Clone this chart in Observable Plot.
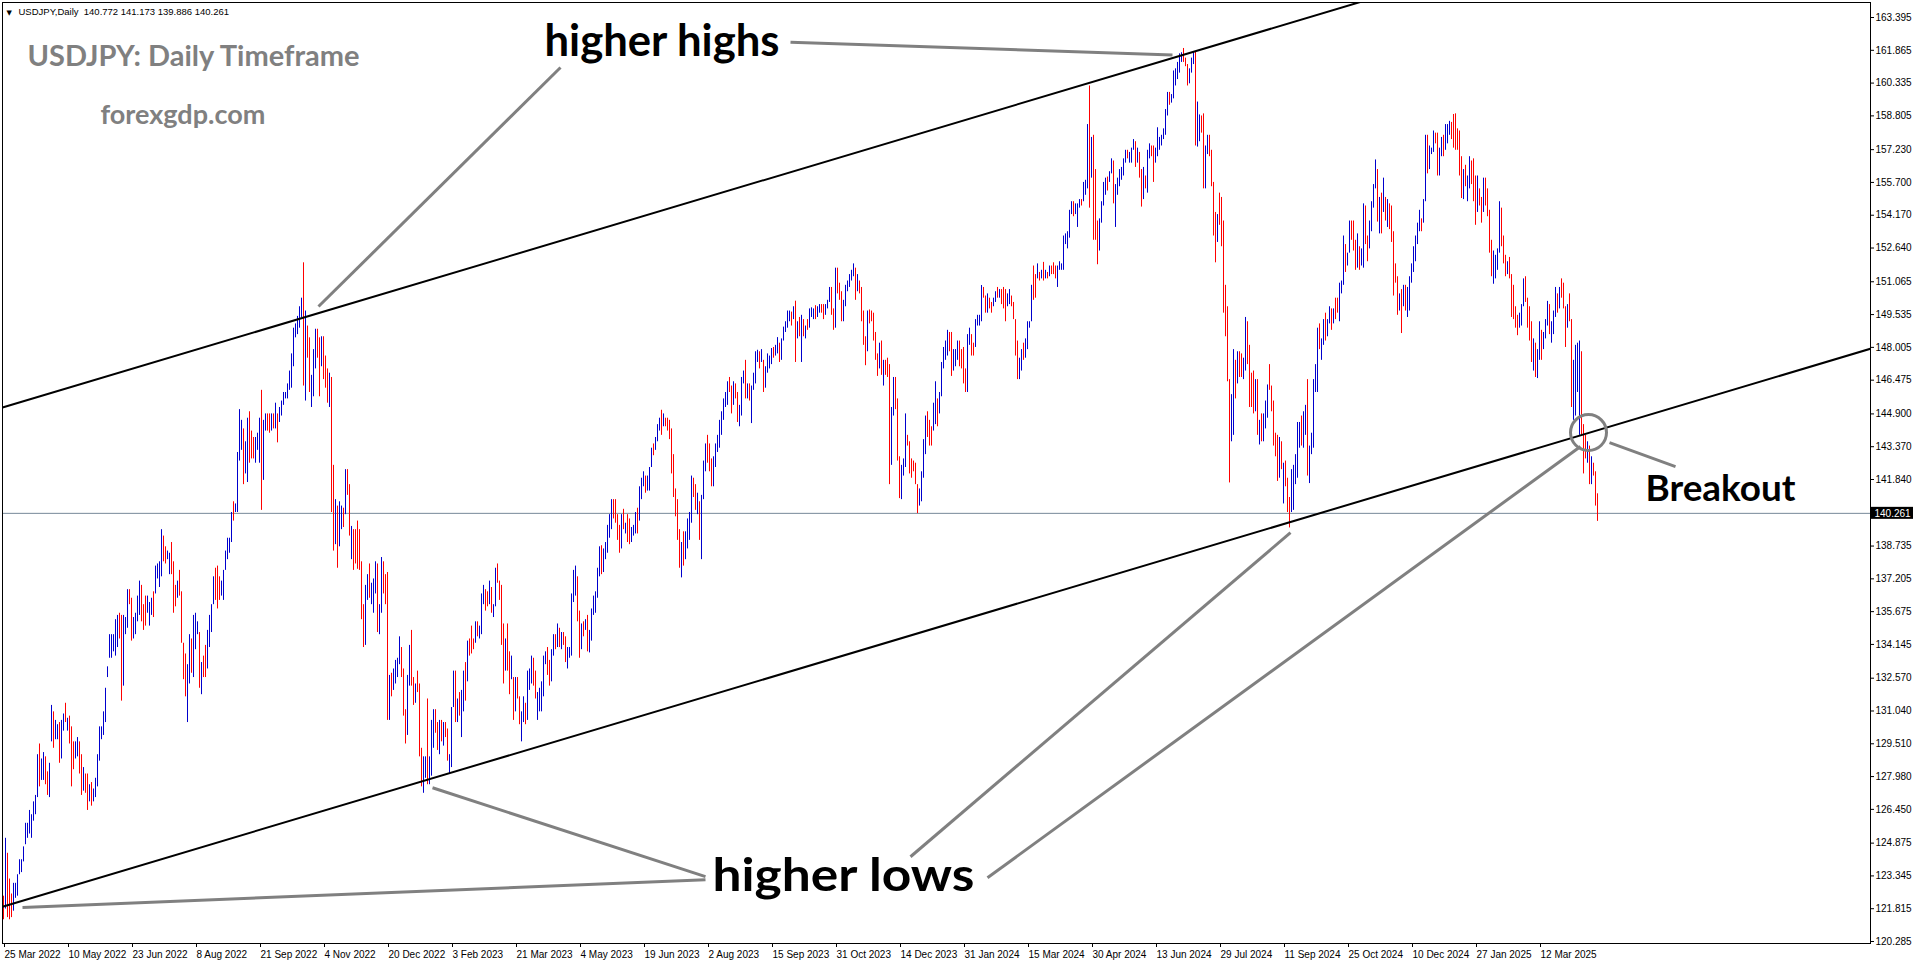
<!DOCTYPE html>
<html><head><meta charset="utf-8">
<script src="https://cdn.jsdelivr.net/npm/d3@7"></script>
<script src="https://cdn.jsdelivr.net/npm/@observablehq/plot@0.6"></script>
<style>
html,body{margin:0;padding:0;background:#fff;overflow:hidden;}
#chart svg{display:block;}
</style></head><body><div id="chart"></div>
<script>
// ---------- texts ----------
const symbolHeader = "USDJPY,Daily  140.772 141.173 139.886 140.261";
const chartTitle = "USDJPY: Daily Timeframe";
const siteName = "forexgdp.com";
const currentPrice = 140.261;

// ---------- axis tick labels ----------
const dateLabels = ["25 Mar 2022","10 May 2022","23 Jun 2022","8 Aug 2022","21 Sep 2022","4 Nov 2022","20 Dec 2022","3 Feb 2023","21 Mar 2023","4 May 2023","19 Jun 2023","2 Aug 2023","15 Sep 2023","31 Oct 2023","14 Dec 2023","31 Jan 2024","15 Mar 2024","30 Apr 2024","13 Jun 2024","29 Jul 2024","11 Sep 2024","25 Oct 2024","10 Dec 2024","27 Jan 2025","12 Mar 2025"];
const barsPerDateLabel = 32;
const priceTicks = [163.395,161.865,160.335,158.805,157.230,155.700,154.170,152.640,151.065,149.535,148.005,146.475,144.900,143.370,141.840,138.735,137.205,135.675,134.145,132.570,131.040,129.510,127.980,126.450,124.875,123.345,121.815,120.285];

// ---------- daily bars (one per trading day, 25 Mar 2022 -> 22 Apr 2025) ----------
const highs = [
122.4,125.1,124.4,123.2,122.5,123.0,123.0,123.4,124.1,124.1, // 0
124.7,125.8,125.8,126.4,126.2,126.8,127.1,129.0,129.5,128.8,
129.1,128.9,128.2,128.6,131.3,131.0,130.6,130.4,130.5,130.6,
130.9,131.4,130.7,130.8,130.3,129.6,129.6,129.8,129.6,129.0,
128.4,128.1,128.1,127.6,127.7,127.4,127.9,129.0,130.3,130.3,
131.0,132.1,133.1,134.6,134.6,134.6,135.3,135.5,135.6,135.5, // 50
135.5,135.4,136.7,136.7,136.3,135.4,135.6,136.4,137.1,136.9,
136.0,136.4,136.4,136.1,136.3,136.6,137.8,137.9,138.0,139.5,
139.2,138.7,138.5,138.4,138.9,138.0,136.9,137.1,137.6,136.6,
134.2,133.7,133.2,134.6,134.4,135.5,135.6,135.2,134.7,133.3,
133.6,134.1,134.8,135.5,136.0,137.3,137.7,137.8,137.3,137.1, // 100
137.6,138.5,139.1,139.1,140.3,140.8,140.7,143.1,145.1,144.6,
144.2,143.6,144.7,145.0,144.1,143.8,143.8,144.0,144.7,146.0,
144.6,144.9,144.9,144.9,144.9,144.9,145.4,144.9,145.2,145.5,
145.9,145.9,146.3,146.9,147.7,148.9,149.1,149.45,149.9,150.3,
151.95,149.7,149.0,148.45,146.7,147.9,148.85,148.85,148.45,148.5, // 150
148.5,147.6,147.0,146.8,146.6,142.5,140.9,140.6,140.8,140.6,
140.5,142.3,142.3,141.6,139.65,139.5,139.5,139.9,139.5,138.0,
136.0,136.9,137.4,137.9,137.0,137.2,138.0,137.9,136.0,138.2,
138.0,137.4,137.5,132.7,132.8,133.0,133.4,133.5,134.5,134.0,
133.0,131.1,132.7,134.1,134.8,132.6,132.3,132.9,132.3,129.3, // 200
128.9,128.9,131.6,128.9,130.6,131.1,131.1,130.5,130.6,130.6,
130.5,130.5,130.2,129.0,131.2,132.9,132.9,131.6,131.9,132.0,
132.9,133.3,134.3,134.4,135.0,134.4,135.2,135.2,135.0,136.5,
136.9,136.7,136.6,137.1,136.8,136.0,137.7,137.9,137.1,136.9,
135.1,134.4,135.1,133.8,133.6,132.6,132.6,132.6,131.7,131.0, // 250
131.7,131.4,132.9,133.0,133.6,133.5,132.9,131.9,132.1,132.4,
133.6,133.8,134.0,133.4,133.9,134.6,134.6,135.1,134.9,134.7,
134.7,134.5,134.0,134.0,136.5,137.6,137.8,137.3,135.7,135.1,
135.2,135.3,135.5,134.8,135.8,136.4,136.6,137.7,138.7,138.75,
138.6,138.9,139.7,140.2,140.9,140.9,140.9,140.2,139.7,140.2, // 300
140.45,139.8,140.2,140.0,139.6,139.7,140.3,140.5,141.5,141.9,
142.2,142.0,142.0,142.4,143.3,143.5,143.8,144.4,144.7,145.07,
144.9,144.7,144.7,144.6,144.2,143.0,141.4,140.9,139.5,138.9,
139.4,139.4,140.0,140.3,142.0,141.9,141.6,141.2,140.8,141.1,
142.7,143.5,143.9,143.5,142.8,142.9,143.5,143.9,144.6,145.0, // 350
145.6,145.9,146.4,146.6,146.2,146.4,146.3,145.9,145.3,146.6,
146.9,147.4,146.3,146.3,146.2,146.8,147.8,147.87,147.8,147.9,
147.4,147.1,147.7,147.6,147.95,148.0,148.1,148.46,148.2,148.4,
148.95,149.2,149.7,149.7,149.65,149.9,150.16,149.2,149.4,149.5,
149.3,149.0,149.3,149.8,149.85,149.8,149.95,149.9,150.0,150.0, // 400
150.0,150.0,150.2,150.8,150.8,149.8,151.7,151.7,151.0,150.6,
150.2,150.9,151.1,151.4,151.6,151.9,151.7,151.4,151.1,150.8,
149.7,148.5,149.7,149.75,149.7,149.6,148.7,147.7,148.2,148.3,
147.4,147.4,147.5,147.2,145.2,146.6,146.6,145.6,142.9,142.5,
142.8,144.9,143.9,143.6,142.8,142.7,142.6,141.6,141.4,142.2, // 450
143.7,144.8,145.0,144.6,144.3,145.4,146.4,145.6,145.9,147.3,
148.0,148.3,148.8,148.7,148.7,147.9,147.9,148.3,148.3,147.9,
148.0,147.0,148.6,148.9,148.6,148.2,149.3,149.5,149.5,150.89,
150.8,150.4,150.5,150.3,150.1,150.3,150.6,150.8,150.7,150.7,
150.8,150.7,150.5,150.7,150.4,150.1,149.3,148.3,147.5,147.9, // 500
148.2,148.4,149.2,149.2,150.9,151.8,151.4,151.9,151.5,151.6,
151.97,151.6,151.5,151.8,151.8,151.95,151.8,151.8,152.0,151.9,
153.2,153.3,153.4,154.4,154.8,154.8,154.7,154.7,154.9,154.9,
155.7,155.8,158.4,160.2,157.8,157.9,156.3,153.9,154.0,154.8,
155.7,155.9,155.95,156.2,156.8,156.7,155.6,155.9,156.3,156.4, // 550
156.8,157.2,157.2,157.1,157.3,157.7,157.6,157.3,157.1,156.3,
156.4,156.0,157.2,157.5,157.4,157.4,157.3,158.25,157.8,157.9,
158.2,159.1,159.9,159.9,159.8,160.9,161.0,161.3,161.7,161.75,
161.95,161.5,161.2,161.0,161.5,161.8,161.8,159.45,158.85,158.8,
158.9,157.4,157.9,157.9,157.2,155.7,154.3,154.2,155.2,155.0, // 600
153.9,150.9,149.9,146.5,145.8,147.9,147.4,147.8,147.8,147.7,
147.5,149.4,149.2,148.1,146.8,146.9,146.5,146.5,144.6,144.9,
144.9,145.5,146.25,147.2,146.2,145.5,144.0,143.9,143.8,143.6,
142.6,142.7,141.9,141.0,142.3,142.5,143.0,144.5,144.5,144.8,
145.0,145.3,146.5,143.4,144.0,146.5,147.2,148.9,149.1,148.4, // 650
149.3,149.6,149.3,149.9,149.8,149.8,150.3,150.3,151.0,151.1,
153.2,152.8,152.4,153.9,153.9,153.9,153.0,153.3,152.7,152.6,
154.7,154.6,153.2,153.9,154.8,155.6,156.75,156.3,155.0,155.2,
155.9,155.0,154.9,154.7,154.6,153.4,151.9,151.3,150.5,150.7,
150.9,150.9,150.8,151.3,151.9,152.7,153.2,153.8,154.4,154.0, // 700
154.9,157.9,157.9,157.4,157.3,158.1,158.0,158.0,157.3,157.8,
157.9,158.4,158.4,158.55,158.5,158.87,158.9,158.2,158.1,156.9,
156.3,156.5,156.0,156.9,156.7,156.8,156.0,156.0,155.4,155.0,
155.9,155.9,155.4,154.4,153.0,152.5,152.3,152.6,154.8,154.5,
153.2,152.3,152.0,152.2,151.4,150.9,149.9,149.5,149.6,150.0, // 750
151.2,151.3,150.3,149.9,149.2,148.4,148.2,147.9,149.2,148.8,
148.7,149.3,150.15,150.0,149.2,149.7,150.8,150.5,150.8,151.2,
151.0,149.9,150.0,150.5,149.3,147.4,148.1,148.2,148.3,147.8,
144.4,143.9,143.6,143.4,142.9,142.6,142.2,141.173 // 790
];
const lows = [
121.3,121.8,121.4,121.3,121.4,121.7,122.3,122.4,123.4,123.5, // 0
124.0,124.8,125.1,125.3,125.1,125.9,126.2,127.0,127.5,127.8,
127.8,127.6,127.1,127.0,129.6,129.3,129.7,129.7,128.6,128.8,
130.1,130.5,130.1,129.5,127.5,128.3,128.8,128.9,128.1,127.1,
127.3,127.2,126.4,126.8,126.6,126.8,127.0,127.5,128.7,129.7,
129.9,130.5,132.6,133.5,133.5,133.8,133.6,134.0,134.4,131.5, // 50
132.2,134.6,134.9,136.0,134.3,134.4,134.6,135.2,135.5,135.2,
134.8,135.0,135.6,135.0,135.5,135.4,136.5,137.2,136.8,137.3,
138.0,137.9,138.1,137.4,137.4,135.6,135.9,136.3,136.4,134.2,
132.5,131.7,130.5,132.3,132.8,132.6,133.9,134.6,132.1,131.8,
132.6,132.6,133.0,134.0,134.7,136.0,136.2,135.8,136.2,136.4, // 100
136.2,137.6,138.1,138.4,138.9,139.9,140.3,140.3,142.7,143.2,
141.6,142.1,141.7,142.6,142.8,142.8,142.6,143.2,142.6,140.4,
141.8,144.1,144.1,144.0,144.1,144.2,144.2,143.55,144.5,144.8,
145.3,145.6,145.6,146.0,146.1,147.1,148.45,148.6,148.9,149.4,
146.2,145.5,147.5,145.9,145.2,145.7,147.0,147.5,145.7,147.1, // 150
146.5,146.1,145.4,145.2,140.3,138.5,138.8,137.7,138.7,139.5,
139.6,140.2,141.1,139.2,138.1,137.6,137.9,137.65,137.6,135.3,
134.0,134.1,136.2,136.3,136.0,135.6,136.5,134.7,134.6,135.6,
136.5,136.0,130.6,130.6,131.7,132.0,132.3,132.6,133.2,132.6,
130.8,129.5,129.9,132.2,132.2,131.3,131.4,131.9,128.9,127.5, // 200
127.2,127.9,127.6,127.6,128.0,129.3,130.0,129.2,129.0,129.6,
129.4,129.8,128.7,128.1,128.4,131.2,130.5,130.5,130.8,129.8,
131.0,131.5,132.4,133.6,133.7,133.9,134.2,134.5,134.4,134.6,
136.0,135.7,135.9,136.0,135.6,135.4,135.9,137.0,136.2,134.1,
132.3,132.9,132.9,131.8,132.5,130.6,131.0,131.6,130.4,129.6, // 250
130.5,130.4,130.6,132.0,132.3,132.2,131.6,130.6,131.0,131.0,
131.7,133.2,132.7,132.2,132.4,133.6,133.9,134.0,134.0,133.9,
134.1,133.3,133.0,133.5,133.6,136.1,136.4,135.2,133.5,133.9,
134.5,134.8,133.8,133.75,134.3,135.5,135.6,136.3,137.3,137.4,
137.5,138.1,138.4,139.1,139.5,140.0,139.8,139.0,138.4,138.6, // 300
139.5,139.3,138.9,138.8,138.9,139.2,139.3,139.3,139.9,140.9,
141.5,141.2,141.3,141.3,142.4,142.95,143.2,143.6,144.1,143.9,
144.3,144.3,144.1,143.7,142.1,141.0,140.1,139.0,137.7,137.25,
137.8,138.1,138.6,139.0,139.8,141.0,140.4,140.2,139.0,138.1,
140.9,142.2,142.6,142.2,141.5,141.5,142.4,143.1,143.3,143.9, // 350
144.6,145.2,145.3,145.9,144.9,145.3,145.6,144.5,144.3,144.8,
146.3,145.6,145.6,145.5,144.45,146.0,146.3,147.3,147.0,147.3,
145.9,146.1,146.8,147.0,147.2,147.5,147.6,147.7,147.3,147.4,
148.3,148.7,148.9,149.2,149.0,149.3,147.3,148.4,148.5,147.3,
148.5,148.4,148.8,148.9,149.4,149.3,149.3,149.4,149.6,149.6, // 400
149.3,149.5,149.8,150.1,149.5,148.8,148.9,150.5,150.2,149.2,
149.2,149.9,150.6,150.8,151.1,151.3,150.2,150.6,150.5,149.2,
148.1,147.15,147.8,149.1,149.2,148.3,147.4,146.65,147.0,146.7,
146.2,146.7,146.6,141.6,142.5,144.8,145.1,142.7,140.95,140.9,
142.0,142.4,143.4,142.1,141.9,142.2,141.6,140.25,140.6,140.8, // 450
141.9,143.0,143.8,143.4,143.4,144.1,144.4,144.3,144.9,145.7,
147.0,147.4,147.6,147.8,146.65,146.9,147.1,147.4,147.1,147.0,
146.3,145.9,145.9,148.1,147.6,147.6,148.0,149.0,149.0,149.2,
150.3,149.6,149.6,149.8,149.6,149.9,150.1,150.3,150.3,150.0,
149.8,149.2,149.9,150.0,149.9,149.3,147.6,146.5,146.5,146.9, // 500
147.4,147.5,147.9,148.9,149.2,150.2,150.3,151.2,151.1,151.2,
151.1,151.2,151.2,151.3,151.4,151.4,151.2,150.8,151.6,151.6,
151.6,152.8,152.6,153.1,154.2,154.1,154.2,153.6,154.5,154.6,
154.8,155.1,155.4,154.5,155.9,153.0,153.0,151.86,152.5,153.8,
154.6,155.1,155.3,155.7,156.1,154.7,153.6,155.1,155.5,155.8, // 550
156.0,156.6,156.8,156.6,156.6,157.2,156.4,156.6,155.9,154.55,
154.9,155.4,155.2,156.8,156.9,155.7,156.6,156.9,157.2,157.4,
157.7,157.9,158.8,159.3,159.4,159.6,160.2,160.5,160.8,161.3,
161.3,161.1,160.2,160.3,160.8,161.2,157.4,157.35,157.6,158.0,
155.4,155.4,157.0,156.9,155.5,153.2,151.95,152.9,153.7,152.7, // 600
149.6,148.5,146.4,141.68,143.6,143.9,145.6,146.3,146.6,146.6,
146.5,146.9,147.2,145.2,145.2,144.9,145.0,143.9,143.45,143.6,
143.6,144.2,144.7,146.0,145.0,143.4,142.9,141.75,141.9,142.3,
140.7,141.5,140.3,139.58,140.3,140.4,141.6,141.9,143.3,143.4,
143.3,143.9,142.0,141.65,143.0,143.3,145.9,145.9,147.9,147.4, // 650
148.1,148.3,148.5,149.1,148.8,149.1,149.3,149.6,149.2,150.5,
150.9,151.5,151.8,152.4,153.0,152.5,151.6,151.7,151.6,151.8,
151.7,152.8,152.0,152.6,153.4,154.5,155.4,153.85,153.3,153.3,
154.3,153.9,153.6,153.5,152.9,150.4,151.0,149.5,149.7,148.65,
149.9,149.7,149.4,149.7,151.0,151.5,152.0,152.8,153.4,153.4, // 700
153.8,154.8,156.1,156.3,157.0,157.1,157.5,156.0,156.0,156.9,
156.9,157.2,157.5,157.9,157.7,157.3,157.2,157.2,156.0,154.95,
154.9,155.5,154.8,155.4,155.6,154.8,153.7,154.3,154.6,153.8,
154.3,154.6,154.1,152.4,151.3,150.95,151.2,151.6,152.4,152.7,
151.9,151.3,151.4,151.2,149.4,149.3,148.9,148.55,148.9,149.0, // 750
149.9,150.1,148.9,148.3,147.3,146.9,146.6,146.55,147.4,147.4,
147.9,148.4,149.0,148.6,148.2,148.6,149.4,149.6,149.8,150.3,
149.8,148.0,148.9,149.2,145.2,144.6,144.8,145.9,143.9,143.9,
142.1,142.8,142.6,141.6,141.6,142.0,140.6,139.886 // 790
];
// u = bar closed up (blue), d = bar closed down (red)
const barDirection = [
"duddduuuuu","uuuuuuuudu","udduuduudu","ududdduudd","udduduuuuu",
"uuuuuuuudd","uuudduuuud","dduuuduuuu","dduudddudd","dduuduuudu",
"dduuuudddu","uuuuuduuuu","duuddduuud","uuddududuu","uuuuuuuuuu",
"dudduuuddu","dddudduduu","dudduddddd","duuduuuduu","ddduduuuud",
"dduudduddd","uuduuuddud","udduuududu","ududdduduu","udduduuddd",
"duddududdu","uduuudduuu","uudduududu","dduuuuuddu","duduuuuuud",
"uuuuuddddu","dudduuuduu","uduuuduuud","uddddddddu","duuuuddudu",
"uuddduuuuu","uuuddudduu","ududuuuudu","duuuuduudu","uuuudududu",
"duduuuduud","duuudduddd","uuuuuududd","ddudddddud","uddduudddu",
"uudddddduu","uuddduuduu","uuudduuudd","dduudduuuu","ddudduudud",
"dduudddduu","duuuuddudu","dududdduuu","uuuuuduuud","uuududdduu",
"uuduuduuuu","uuduuududd","uduudduuuu","uuuduuuuuu","ddduuuduud",
"duuddddudd","dddduududd","uuddddudud","uuudddddud","uddduuuuud",
"uuduuuuudu","uduududduu","uduudddudu","udduuuudud","ududddddud",
"uduuuuuuud","uuduuudduu","duuudddddd","uduudddudd","udddduuuud",
"dduddddduu","udddduduud","uuuduuudud","ddudduuuud","ddududdd"
].join("");

// ---------- drawn objects (chart coordinates: bar number, price) ----------
const channelUpper = [{i: -0.5, p: 145.20}, {i: 700, p: 164.72}];
const channelLower = [{i: -0.5, p: 121.91}, {i: 933.5, p: 147.94}];
const pointerLines = [
  {i1: 393.5, p1: 162.24, i2: 584.5, p2: 161.65},
  {i1: 278.5, p1: 161.06, i2: 157.5, p2: 149.91},
  {i1: 351, p1: 123.31, i2: 214.5, p2: 127.46},
  {i1: 351, p1: 123.17, i2: 9.5, p2: 121.87},
  {i1: 453.5, p1: 124.24, i2: 643.5, p2: 139.36},
  {i1: 492, p1: 123.26, i2: 788.5, p2: 143.38},
  {i1: 803, p1: 143.56, i2: 836, p2: 142.44}
];
const breakoutCircle = [{i: 792.5, p: 144.03}];
const noteHighs = [{i: 270.5, p: 161.58, text: "higher highs"}];
const noteLows = [{i: 354.5, p: 122.66, text: "higher lows"}];
const noteBreak = [{i: 821, p: 140.86, text: "Breakout"}];

if (highs.length !== lows.length || highs.length !== barDirection.length) {
  throw new Error(`length mismatch highs=${highs.length} lows=${lows.length} dir=${barDirection.length}`);
}

const bars = highs.map((h, i) => ({i, hi: h, lo: lows[i], up: barDirection[i] === "u"}));
const dateTickBars = dateLabels.map((_, k) => k * barsPerDateLabel);

const annFont = "Lato, 'Open Sans', sans-serif";

const chart = Plot.plot({
  width: 1916,
  height: 964,
  marginLeft: 2,
  marginRight: 46,
  marginTop: 2,
  marginBottom: 21,
  x: {domain: [-0.5, 933.5], axis: null},
  y: {domain: [120.192, 164.095], axis: null},
  style: {fontFamily: "'Liberation Sans', Arial, sans-serif", fontSize: "10px", background: "#fff", color: "#000", overflow: "visible"},
  marks: [
    Plot.ruleY([currentPrice], {stroke: "#778899", strokeWidth: 1}),
    Plot.ruleX(bars, {x: "i", y1: "lo", y2: "hi", stroke: d => d.up ? "#0000cd" : "#ff0000", strokeWidth: 1}),
    Plot.line(channelUpper, {x: "i", y: "p", stroke: "#000", strokeWidth: 2, clip: true}),
    Plot.line(channelLower, {x: "i", y: "p", stroke: "#000", strokeWidth: 2, clip: true}),
    Plot.link(pointerLines, {x1: "i1", y1: "p1", x2: "i2", y2: "p2", stroke: "#808080", strokeWidth: 3}),
    Plot.dot(breakoutCircle, {x: "i", y: "p", r: 18, stroke: "#808080", strokeWidth: 3, fill: "none"}),
    Plot.text(noteHighs, {x: "i", y: "p", text: "text", textAnchor: "start", lineAnchor: "bottom", fontSize: 43, fontWeight: "bold", fontFamily: annFont, fill: "#000", className: "note-highs"}),
    Plot.text(noteLows, {x: "i", y: "p", text: "text", textAnchor: "start", lineAnchor: "bottom", fontSize: 45, fontWeight: "bold", fontFamily: annFont, fill: "#000", className: "note-lows"}),
    Plot.text(noteBreak, {x: "i", y: "p", text: "text", textAnchor: "start", lineAnchor: "bottom", fontSize: 36, fontWeight: "bold", fontFamily: annFont, fill: "#000", className: "note-break"}),
    Plot.frame({stroke: "#000"}),
    Plot.axisY({anchor: "right", ticks: priceTicks, tickSize: 3, tickPadding: 2, tickFormat: d => d.toFixed(3), fontSize: 10}),
    Plot.axisX({anchor: "bottom", ticks: dateTickBars, tickSize: 4, tickPadding: 3, textAnchor: "start", dx: 1, tickFormat: d => dateLabels[Math.round(d / barsPerDateLabel)], fontSize: 10}),
    Plot.rect([currentPrice], {x1: 934, x2: 955, y1: d => d - 0.28, y2: d => d + 0.28, fill: "#000"}),
    Plot.text([currentPrice], {x: 935.5, y: d => d, text: d => d.toFixed(3), fill: "#fff", textAnchor: "start", fontSize: 10}),
    Plot.text(["\u25BC"], {frameAnchor: "top-left", dx: 4, dy: 12, lineAnchor: "bottom", textAnchor: "start", fontSize: 7, fontFamily: "'DejaVu Sans', sans-serif", fill: "#000"}),
    Plot.text([symbolHeader], {frameAnchor: "top-left", dx: 16, dy: 12.5, lineAnchor: "bottom", textAnchor: "start", fontSize: 9.5, fill: "#000"}),
    Plot.text([chartTitle], {frameAnchor: "top-left", dx: 25, dy: 63, lineAnchor: "bottom", textAnchor: "start", fontSize: 29, fontWeight: "bold", fontFamily: annFont, fill: "#808080"}),
    Plot.text([siteName], {frameAnchor: "top-left", dx: 98, dy: 121, lineAnchor: "bottom", textAnchor: "start", fontSize: 27, fontWeight: "bold", fontFamily: annFont, fill: "#808080"})
  ]
});
// stretch the annotation words to the widths they occupy in the reference
const noteWidths = {"note-highs": 235, "note-lows": 262, "note-break": 150};
for (const [cls, w] of Object.entries(noteWidths)) {
  d3.select(chart).selectAll(`g.${cls} text`).attr("textLength", w).attr("lengthAdjust", "spacingAndGlyphs");
}
document.getElementById("chart").appendChild(chart);
</script>
</body></html>
